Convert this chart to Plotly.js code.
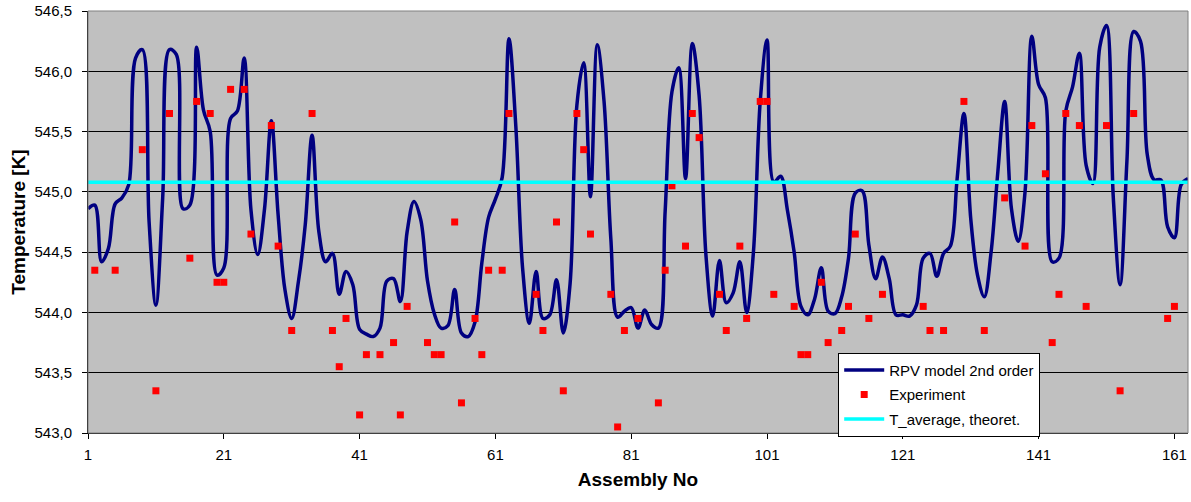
<!DOCTYPE html>
<html>
<head>
<meta charset="utf-8">
<script src="https://cdn.plot.ly/plotly-3.0.1.min.js"></script>
<style>
  html, body { margin: 0; padding: 0; background: #ffffff; }
  #chart { width: 1191px; height: 502px; }
</style>
</head>
<body>
<div id="chart"></div>
<script>
// Model curve: RPV model 2nd order, one value per assembly 1..163
const modelTemp = [
  544.86, 544.89, 544.42, 544.53, 544.90, 544.95, 545.06, 546.11, 546.18, 544.75,
  544.06, 544.95, 546.18, 546.14, 544.86, 544.89, 546.20, 545.68, 545.50, 544.31,
  544.37, 545.61, 545.67, 546.11, 544.85, 544.48, 544.86, 545.59, 544.81, 544.19,
  543.95, 544.26, 544.73, 545.47, 544.67, 544.42, 544.49, 544.15, 544.34, 544.23,
  543.86, 543.82, 543.80, 543.87, 544.26, 544.28, 544.09, 544.67, 544.92, 544.77,
  544.26, 543.99, 543.87, 543.89, 544.19, 543.83, 543.80, 543.92, 544.41, 544.79,
  544.94, 545.12, 546.27, 545.55, 544.37, 543.91, 544.34, 543.95, 543.98, 544.27,
  543.83, 544.24, 545.72, 546.07, 544.96, 546.22, 545.75, 544.61, 543.96, 544.01,
  544.04, 543.87, 544.02, 543.90, 543.87, 544.84, 545.83, 546.03, 545.11, 546.23,
  545.80, 544.48, 543.97, 544.43, 544.08, 544.16, 544.42, 544.00, 544.50, 545.75,
  546.26, 545.08, 545.13, 544.85, 544.50, 544.05, 543.98, 544.11, 544.37, 544.01,
  543.99, 544.13, 544.45, 544.99, 545.01, 544.56, 544.28, 544.46, 544.28, 543.98,
  543.98, 543.97, 544.06, 544.45, 544.49, 544.30, 544.49, 544.55, 545.11, 545.65,
  544.78, 544.31, 544.13, 544.50, 545.17, 545.75, 544.86, 544.59, 545.00, 546.29,
  545.89, 545.78, 544.42, 544.45, 545.67, 545.87, 546.15, 545.22, 545.07, 546.20,
  546.38, 544.95, 544.23, 545.25, 546.33, 546.25, 545.31, 545.10, 545.10, 544.71,
  544.62, 545.06, 545.11
];
const modelAssembly = modelTemp.map((_, i) => i + 1);

// Experiment: measured assemblies
const expAssembly = [
  2, 5, 9, 11, 13, 16, 17, 19, 20, 21,
  22, 24, 25, 28, 29, 31, 34, 37, 38, 39,
  41, 42, 44, 46, 47, 48, 51, 52, 53, 55,
  56, 58, 59, 60, 62, 63, 67, 68, 70, 71,
  73, 74, 75, 78, 79, 80, 82, 85, 86, 87,
  89, 90, 91, 94, 95, 97, 98, 100, 101, 102,
  105, 106, 107, 109, 110, 112, 113, 114, 116, 118,
  123, 124, 125, 127, 130, 133, 136, 139, 140, 142,
  143, 144, 145, 147, 148, 151, 153, 155, 160, 161
];
const expTemp = [
  544.35, 544.35, 545.35, 543.35, 545.65, 544.45, 545.75, 545.65, 544.25, 544.25,
  545.85, 545.85, 544.65, 545.55, 544.55, 543.85, 545.65, 543.85, 543.55, 543.95,
  543.15, 543.65, 543.65, 543.75, 543.15, 544.05, 543.75, 543.65, 543.65, 544.75,
  543.25, 543.95, 543.65, 544.35, 544.35, 545.65, 544.15, 543.85, 544.75, 543.35,
  545.65, 545.35, 544.65, 544.15, 543.05, 543.85, 543.95, 543.25, 544.35, 545.05,
  544.55, 545.65, 545.45, 544.15, 543.85, 544.55, 543.95, 545.75, 545.75, 544.15,
  544.05, 543.65, 543.65, 544.25, 543.75, 543.85, 544.05, 544.65, 543.95, 544.15,
  543.05, 544.05, 543.85, 543.85, 545.75, 543.85, 544.95, 544.55, 545.55, 545.15,
  543.75, 544.15, 545.65, 545.55, 544.05, 545.55, 543.35, 545.65, 543.95, 544.05
];

// Theoretical average temperature
const tAverage = 545.08;
const avgAssembly = [1, 163];

const xTickVals = [1, 21, 41, 61, 81, 101, 121, 141, 161];
const yTickVals = [543.0, 543.5, 544.0, 544.5, 545.0, 545.5, 546.0, 546.5];

const font = "'Liberation Sans', Arial, sans-serif";

const traces = [
  {
    x: modelAssembly, y: modelTemp, type: 'scatter', mode: 'lines',
    name: 'RPV model 2nd order', legendgroup: 'g1',
    line: { color: '#000080', width: 3.5, shape: 'spline', smoothing: 1 }
  },
  {
    x: expAssembly, y: expTemp, type: 'scatter', mode: 'markers',
    name: 'Experiment', legendgroup: 'g2',
    marker: { color: '#FF0000', symbol: 'square', size: 7, line: { width: 0 } }
  },
  {
    x: avgAssembly, y: avgAssembly.map(() => tAverage), type: 'scatter', mode: 'lines',
    name: 'T_average, theoret.', legendgroup: 'g3',
    line: { color: '#00FFFF', width: 3.5 }
  }
];

const layout = {
  width: 1191, height: 502,
  margin: { l: 88, r: 3, t: 11, b: 69, pad: 0 },
  paper_bgcolor: '#ffffff',
  plot_bgcolor: '#C0C0C0',
  separators: ',.',
  font: { family: font, size: 15, color: '#000000' },
  showlegend: true,
  legend: {
    x: 0.682, y: 0.19, xanchor: 'left', yanchor: 'top',
    bgcolor: '#ffffff', bordercolor: '#000000', borderwidth: 1,
    font: { family: font, size: 15, color: '#000000' },
    itemwidth: 40, tracegroupgap: 2
  },
  xaxis: {
    range: [1, 163],
    tickmode: 'array', tickvals: xTickVals,
    ticks: 'outside', ticklen: 5, tickcolor: '#000000', tickwidth: 1,
    ticklabelstandoff: 3,
    showgrid: false, zeroline: false,
    showline: true, linecolor: '#000000', linewidth: 1,
    tickfont: { family: font, size: 15, color: '#000000' },
    title: { text: '<b>Assembly No</b>', font: { family: font, size: 19, color: '#000000' }, standoff: 10 },
    automargin: false
  },
  yaxis: {
    range: [543.0, 546.5],
    tickmode: 'array', tickvals: yTickVals, tickformat: '.1f',
    ticks: 'outside', ticklen: 5, tickcolor: '#000000', tickwidth: 1,
    ticklabelstandoff: 7,
    showgrid: true, gridcolor: '#000000', gridwidth: 1,
    zeroline: false,
    showline: true, linecolor: '#000000', linewidth: 1,
    tickfont: { family: font, size: 15, color: '#000000' },
    title: { text: '<b>Temperature [K]</b>', font: { family: font, size: 19, color: '#000000' }, standoff: 3 },
    automargin: false
  },
  shapes: [
    { type: 'rect', xref: 'paper', yref: 'paper', x0: 0, x1: 1, y0: 0, y1: 1,
      line: { color: '#808080', width: 1 }, fillcolor: 'rgba(0,0,0,0)', layer: 'above' }
  ]
};

Plotly.newPlot('chart', traces, layout, { displayModeBar: false, staticPlot: true });
</script>
</body>
</html>
